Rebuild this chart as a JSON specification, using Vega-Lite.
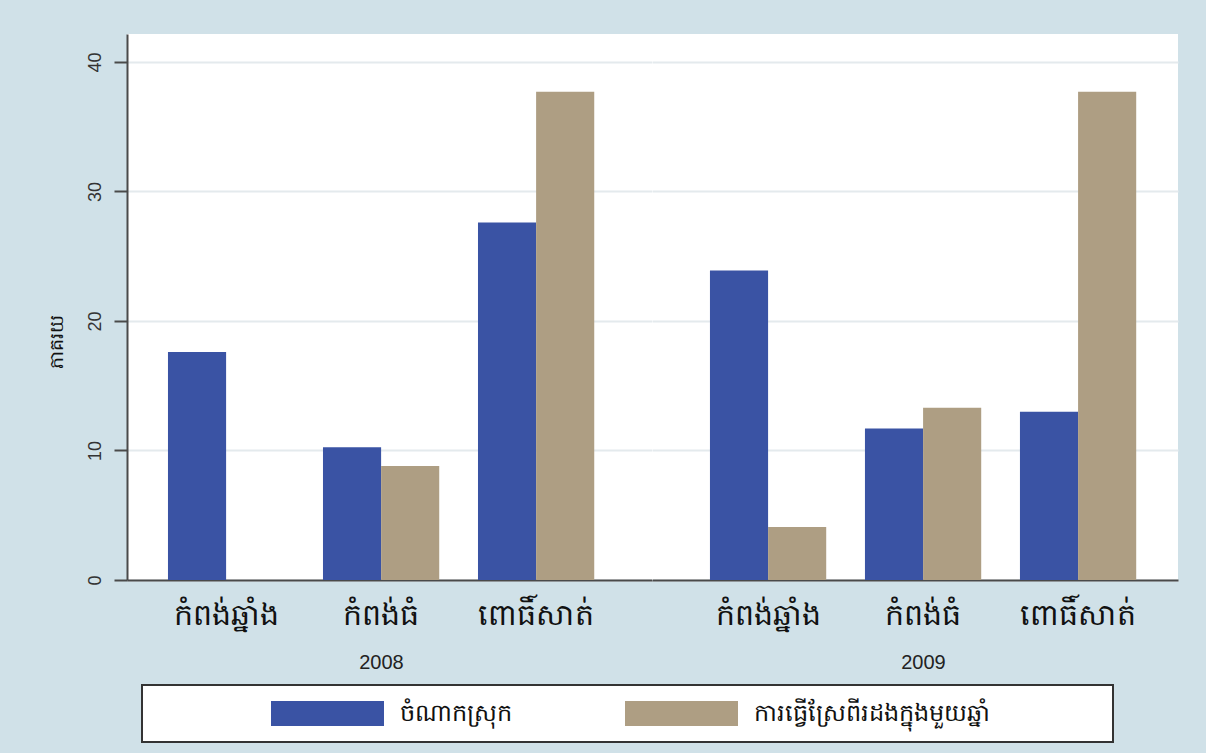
{
  "$schema": "https://vega.github.io/schema/vega-lite/v6.json",
  "background": "#d0e1e8",
  "padding": {"left": 47, "top": 34, "right": 28, "bottom": 10},
  "spacing": 0,
  "config": {
    "view": {"stroke": null, "fill": "white"},
    "font": "Noto Sans",
    "axis": {"labelColor": "#333333", "titleColor": "#222222", "titleFontWeight": "normal"}
  },
  "data": {
    "values": [
      {"year": "2008", "province": "កំពង់ឆ្នាំង", "series": "ចំណាកស្រុក", "value": 17.6},
      {"year": "2008", "province": "កំពង់ឆ្នាំង", "series": "ការធ្វើស្រែពីរដងក្នុងមួយឆ្នាំ", "value": 0},
      {"year": "2008", "province": "កំពង់ធំ", "series": "ចំណាកស្រុក", "value": 10.25},
      {"year": "2008", "province": "កំពង់ធំ", "series": "ការធ្វើស្រែពីរដងក្នុងមួយឆ្នាំ", "value": 8.8},
      {"year": "2008", "province": "ពោធិ៍សាត់", "series": "ចំណាកស្រុក", "value": 27.6},
      {"year": "2008", "province": "ពោធិ៍សាត់", "series": "ការធ្វើស្រែពីរដងក្នុងមួយឆ្នាំ", "value": 37.7},
      {"year": "2009", "province": "កំពង់ឆ្នាំង", "series": "ចំណាកស្រុក", "value": 23.9},
      {"year": "2009", "province": "កំពង់ឆ្នាំង", "series": "ការធ្វើស្រែពីរដងក្នុងមួយឆ្នាំ", "value": 4.1},
      {"year": "2009", "province": "កំពង់ធំ", "series": "ចំណាកស្រុក", "value": 11.7},
      {"year": "2009", "province": "កំពង់ធំ", "series": "ការធ្វើស្រែពីរដងក្នុងមួយឆ្នាំ", "value": 13.3},
      {"year": "2009", "province": "ពោធិ៍សាត់", "series": "ចំណាកស្រុក", "value": 13.0},
      {"year": "2009", "province": "ពោធិ៍សាត់", "series": "ការធ្វើស្រែពីរដងក្នុងមួយឆ្នាំ", "value": 37.7}
    ]
  },
  "resolve": {"scale": {"y": "shared", "color": "shared"}, "legend": {"color": "shared"}},
  "hconcat": [
    {
      "width": 525,
      "height": 546,
      "transform": [{"filter": {"field": "year", "equal": "2008"}}],
      "mark": {"type": "bar"},
      "encoding": {
        "x": {
          "field": "province", "type": "nominal",
          "sort": ["កំពង់ឆ្នាំង", "កំពង់ធំ", "ពោធិ៍សាត់"],
          "scale": {"paddingInner": 0.25, "paddingOuter": 0.3185, "align": 0.415},
          "axis": {"title": "2008", "titleX": 254, "titleFont": "Liberation Sans", "titleFontSize": 20, "titlePadding": 22, "labelAngle": 0, "labelFontSize": 30, "labelColor": "#111111", "labelPadding": 20, "ticks": false, "domainColor": "#4a4a4a", "domainWidth": 2}
        },
        "xOffset": {"field": "series", "type": "nominal", "sort": ["ចំណាកស្រុក", "ការធ្វើស្រែពីរដងក្នុងមួយឆ្នាំ"], "scale": {"paddingInner": 0, "paddingOuter": 0}},
        "y": {
          "field": "value", "type": "quantitative",
          "scale": {"domain": [0, 42.16], "nice": false},
          "axis": {"title": "ភាគរយ", "titleY": 307, "titleFontSize": 19, "titleColor": "#111111", "titlePadding": 20, "values": [0, 10, 20, 30, 40], "labelAngle": 270, "labelFont": "Liberation Sans", "labelFontSize": 18, "labelPadding": 10, "tickSize": 13, "tickColor": "#4a4a4a", "tickWidth": 2, "domainColor": "#4a4a4a", "domainWidth": 2, "gridColor": "#e4eaed", "gridWidth": 2}
        },
        "color": {
          "field": "series", "type": "nominal",
          "scale": {"domain": ["ចំណាកស្រុក", "ការធ្វើស្រែពីរដងក្នុងមួយឆ្នាំ"], "range": ["#3a53a4", "#ae9e83"]},
          "legend": {
            "title": "\u00a0", "titleOrient": "right", "titlePadding": 107, "titleFontSize": 8,
            "orient": "none", "legendX": 15, "legendY": 651, "direction": "horizontal", "columns": 2,
            "fillColor": "white", "strokeColor": "#333333", "padding": 16,
            "symbolType": "M-4.52,-1L4.52,-1L4.52,1L-4.52,1Z", "symbolSize": 625, "symbolStrokeWidth": 0, "symbolOpacity": 1,
            "symbolOffset": 157, "columnPadding": 0,
            "labelFontSize": 24, "labelColor": "#111111", "labelOffset": 60, "labelLimit": 500,
            "encode": {"legend": {"update": {"strokeWidth": {"value": 2}}}}
          }
        }
      }
    },
    {
      "width": 526,
      "height": 546,
      "transform": [{"filter": {"field": "year", "equal": "2009"}}],
      "mark": {"type": "bar"},
      "encoding": {
        "x": {
          "field": "province", "type": "nominal",
          "sort": ["កំពង់ឆ្នាំង", "កំពង់ធំ", "ពោធិ៍សាត់"],
          "scale": {"paddingInner": 0.25, "paddingOuter": 0.3218, "align": 0.581},
          "axis": {"title": "2009", "titleX": 271, "titleFont": "Liberation Sans", "titleFontSize": 20, "titlePadding": 22, "labelAngle": 0, "labelFontSize": 30, "labelColor": "#111111", "labelPadding": 20, "ticks": false, "domainColor": "#4a4a4a", "domainWidth": 2}
        },
        "xOffset": {"field": "series", "type": "nominal", "sort": ["ចំណាកស្រុក", "ការធ្វើស្រែពីរដងក្នុងមួយឆ្នាំ"], "scale": {"paddingInner": 0, "paddingOuter": 0}},
        "y": {
          "field": "value", "type": "quantitative",
          "scale": {"domain": [0, 42.16], "nice": false},
          "axis": {"title": null, "values": [0, 10, 20, 30, 40], "labels": false, "ticks": false, "domain": false, "gridColor": "#e4eaed", "gridWidth": 2}
        },
        "color": {"field": "series", "type": "nominal"}
      }
    }
  ]
}
